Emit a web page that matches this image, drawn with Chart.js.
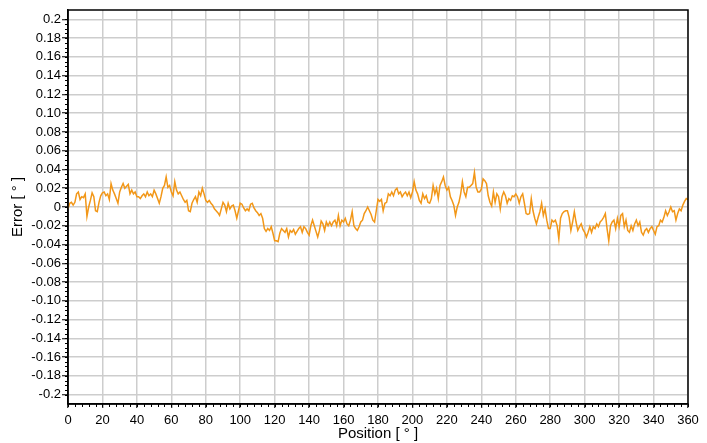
<!DOCTYPE html>
<html>
<head>
<meta charset="utf-8">
<script src="https://cdn.jsdelivr.net/npm/chart.js@4"></script>
<style>
  html, body { margin: 0; padding: 0; background: #fff; }
  #wrap { width: 707px; height: 443px; }
</style>
</head>
<body>
<div id="wrap"><canvas id="errorChart" width="707" height="443"></canvas></div>
<script>
/* DATEN */
const stepDeg = 1;
const errorValues = [
  -0.002, 0.004, 0.005, 0.002, 0.005, 0.014, 0.016, 0.008, 0.011, 0.010,
  0.014, -0.010, 0.000, 0.007, 0.015, 0.011, -0.004, -0.005, 0.005, 0.012,
  0.015, 0.016, 0.012, 0.014, 0.008, 0.025, 0.018, 0.014, 0.009, 0.004,
  0.016, 0.021, 0.025, 0.020, 0.022, 0.024, 0.014, 0.018, 0.014, 0.016,
  0.011, 0.011, 0.009, 0.012, 0.014, 0.011, 0.016, 0.012, 0.014, 0.011,
  0.018, 0.014, 0.009, 0.004, 0.011, 0.020, 0.023, 0.032, 0.021, 0.023,
  0.016, 0.012, 0.027, 0.018, 0.014, 0.016, 0.012, 0.008, 0.005, 0.007,
  -0.004, -0.005, 0.004, 0.008, 0.011, 0.005, 0.016, 0.012, 0.020, 0.014,
  0.007, 0.005, 0.007, 0.004, 0.002, -0.002, -0.004, -0.006, -0.009, -0.002,
  0.005, 0.002, -0.005, 0.004, -0.002, 0.001, 0.002, -0.004, -0.012, -0.004,
  0.004, 0.003, -0.001, -0.004, -0.002, -0.004, 0.003, 0.004, -0.001, -0.004,
  -0.006, -0.009, -0.007, -0.012, -0.023, -0.026, -0.023, -0.025, -0.021, -0.028,
  -0.036, -0.036, -0.037, -0.028, -0.023, -0.025, -0.027, -0.023, -0.032, -0.025,
  -0.027, -0.024, -0.029, -0.026, -0.023, -0.021, -0.027, -0.021, -0.023, -0.027,
  -0.030, -0.020, -0.014, -0.020, -0.026, -0.032, -0.025, -0.015, -0.018, -0.025,
  -0.016, -0.020, -0.016, -0.020, -0.016, -0.014, -0.020, -0.009, -0.020, -0.014,
  -0.016, -0.012, -0.018, -0.020, -0.014, -0.005, -0.020, -0.023, -0.025, -0.021,
  -0.016, -0.014, -0.007, -0.004, 0.000, -0.004, -0.008, -0.014, -0.016, -0.004,
  0.008, 0.006, 0.008, -0.004, 0.004, 0.005, 0.014, 0.012, 0.016, 0.012,
  0.018, 0.020, 0.014, 0.016, 0.011, 0.014, 0.016, 0.012, 0.016, 0.010,
  0.016, 0.027, 0.018, 0.014, 0.007, 0.004, 0.014, 0.009, 0.012, 0.005,
  0.004, 0.009, 0.023, 0.014, 0.020, 0.009, 0.023, 0.027, 0.032, 0.023,
  0.018, 0.021, 0.011, 0.007, 0.002, -0.009, 0.000, 0.005, 0.014, 0.027,
  0.016, 0.011, 0.021, 0.021, 0.023, 0.025, 0.037, 0.021, 0.016, 0.016,
  0.019, 0.030, 0.028, 0.025, 0.012, 0.005, 0.001, 0.016, 0.005, 0.014,
  0.011, -0.002, 0.011, 0.016, 0.012, 0.004, 0.009, 0.007, 0.012, 0.011,
  0.014, 0.011, 0.004, 0.011, 0.014, 0.004, -0.007, -0.008, -0.007, 0.009,
  -0.004, -0.012, -0.018, -0.011, -0.005, 0.004, -0.009, -0.002, -0.014, -0.023,
  -0.023, -0.014, -0.016, -0.014, -0.020, -0.034, -0.012, -0.007, -0.005, -0.004,
  -0.004, -0.011, -0.025, -0.016, -0.005, -0.016, -0.025, -0.021, -0.018, -0.024,
  -0.027, -0.032, -0.027, -0.021, -0.027, -0.021, -0.023, -0.018, -0.021, -0.016,
  -0.014, -0.011, -0.007, -0.023, -0.036, -0.020, -0.016, -0.014, -0.023, -0.012,
  -0.021, -0.009, -0.007, -0.021, -0.014, -0.025, -0.027, -0.020, -0.025, -0.018,
  -0.014, -0.020, -0.016, -0.027, -0.030, -0.025, -0.023, -0.027, -0.023, -0.021,
  -0.025, -0.029, -0.021, -0.020, -0.014, -0.016, -0.011, -0.004, -0.009, -0.005,
  0.000, -0.005, -0.004, -0.014, -0.007, -0.002, -0.004, 0.002, 0.006, 0.009,
  0.008
];
const positions = errorValues.map((_, i) => i * stepDeg);

const xTickValues = [0, 20, 40, 60, 80, 100, 120, 140, 160, 180, 200, 220, 240, 260, 280, 300, 320, 340, 360];
const yTickValues = [-0.2, -0.18, -0.16, -0.14, -0.12, -0.1, -0.08, -0.06, -0.04, -0.02, 0,
  0.02, 0.04, 0.06, 0.08, 0.1, 0.12, 0.14, 0.16, 0.18, 0.2];
const yTickLabels = ["-0.2", "-0.18", "-0.16", "-0.14", "-0.12", "-0.10", "-0.08", "-0.06", "-0.04", "-0.02", "0",
  "0.02", "0.04", "0.06", "0.08", "0.10", "0.12", "0.14", "0.16", "0.18", "0.2"];

const xMinorStep = 4;
const yMinorStep = 0.005;

const FONT = "'Liberation Sans', Arial, sans-serif";

/* RAHMEN + NEBENTEILSTRICHE */
const framePlugin = {
  id: "frame",
  afterDraw(chart) {
    const { ctx, chartArea: a, scales } = chart;
    ctx.save();
    ctx.strokeStyle = "#000";
    ctx.lineWidth = 1;
    ctx.beginPath();
    for (let v = 0; v <= 360; v += xMinorStep) {
      const px = Math.round(scales.x.getPixelForValue(v)) + 0.5;
      ctx.moveTo(px, a.bottom);
      ctx.lineTo(px, a.bottom + 3);
    }
    for (let i = -40; i <= 40; i++) {
      const py = Math.round(scales.y.getPixelForValue(i * yMinorStep)) + 0.5;
      ctx.moveTo(a.left, py);
      ctx.lineTo(a.left - 3, py);
    }
    ctx.stroke();
    ctx.lineWidth = 1.5;
    ctx.strokeRect(a.left, a.top, a.right - a.left, a.bottom - a.top);
    ctx.restore();
  }
};

new Chart(document.getElementById("errorChart"), {
  type: "line",
  data: {
    datasets: [{
      data: positions.map((p, i) => ({ x: p, y: errorValues[i] })),
      borderColor: "#f29718",
      borderWidth: 1.5,
      pointRadius: 0,
      tension: 0
    }]
  },
  options: {
    responsive: false,
    animation: false,
    layout: { padding: { left: 0, right: 19, top: 10, bottom: 0 } },
    plugins: { legend: { display: false }, tooltip: { enabled: false } },
    scales: {
      x: {
        type: "linear",
        min: 0,
        max: 360,
        afterBuildTicks: s => { s.ticks = xTickValues.map(v => ({ value: v })); },
        afterFit: s => { s.height = 39; },
        grid: { color: "#cdcdcd", lineWidth: 1.5, tickColor: "#000", tickLength: 4, tickWidth: 1 },
        border: { color: "#000", width: 1.5 },
        ticks: { autoSkip: false, maxRotation: 0, padding: 5, color: "#000", font: { family: FONT, size: 13 } },
        title: { display: true, text: "Position [ ° ]", color: "#000", padding: { top: 0, bottom: 0 }, font: { family: FONT, size: 15 } }
      },
      y: {
        type: "linear",
        min: -0.21,
        max: 0.21,
        afterBuildTicks: s => { s.ticks = yTickValues.map(v => ({ value: v })); },
        afterFit: s => { s.width = 68; },
        grid: { color: "#cdcdcd", lineWidth: 1.5, tickColor: "#000", tickLength: 6, tickWidth: 1 },
        border: { color: "#000", width: 1.5 },
        ticks: {
          autoSkip: false,
          padding: 1,
          color: "#000",
          font: { family: FONT, size: 13 },
          callback: (v, i) => yTickLabels[i]
        },
        title: { display: true, text: "Error [ ° ]", color: "#000", padding: { top: 9, bottom: 0 }, font: { family: FONT, size: 15 } }
      }
    }
  },
  plugins: [framePlugin]
});
</script>
</body>
</html>
